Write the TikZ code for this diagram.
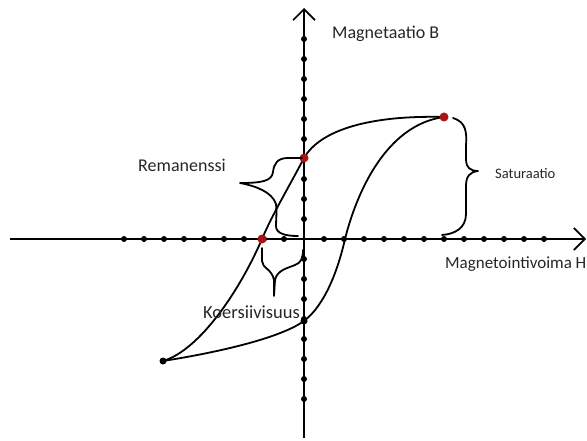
\documentclass[tikz,border=0pt]{standalone}
\usepackage{fontspec}
\setmainfont{Carlito}
\usepackage{tikz}
\usetikzlibrary{arrows.meta}
\definecolor{remred}{RGB}{170,20,20}

\begin{document}
\begin{tikzpicture}[x=1pt,y=-1pt,
  axis/.style={line width=1.7pt,-{Straight Barb[length=11pt,width=22pt]}},
  loop/.style={line width=1.8pt},
  brace/.style={line width=1.8pt,line cap=round,line join=round},
  tickdot/.style={circle,fill=black,inner sep=0pt,minimum size=6pt},
  reddot/.style={circle,fill=remred,inner sep=0pt,minimum size=9pt},
  lbl/.style={anchor=base west,inner sep=0pt,text=black!85,font=\fontsize{18}{20}\selectfont}]
\useasboundingbox (0,0) rectangle (587,441);
% axes
\coordinate (hl) at (10,239);
\coordinate (hr) at (586,239);
\coordinate (vb) at (304,438);
\coordinate (vt) at (304,8);
\draw[axis] (hl) -- (hr);
\draw[axis] (vb) -- (vt);
% tick dots
\foreach \k in {1,...,9} \node[tickdot] at (304-20*\k,239) {};
\foreach \k in {1,...,12} \node[tickdot] at (304+20*\k,239) {};
\foreach \k in {1,...,10} \node[tickdot] at (304,239-20*\k) {};
\foreach \k in {1,...,8} \node[tickdot] at (304,239+20*\k) {};
% hysteresis loop
\coordinate (satp) at (444,117);
\coordinate (remp) at (304,158);
\coordinate (coerp) at (262,239);
\coordinate (negp) at (163,361);
\coordinate (lowp) at (304,321);
\coordinate (hcross) at (345,239);
\draw[loop] (satp) .. controls (370,115) and (320,130) .. (remp)
  .. controls (290,185) and (272,215) .. (coerp)
  .. controls (240,290) and (200,350) .. (negp);
\draw[loop] (negp) .. controls (220,352) and (280,338) .. (lowp)
  .. controls (325,305) and (338,270) .. (hcross)
  .. controls (356,195) and (385,125) .. (satp);
\node[tickdot,minimum size=7pt] (neg) at (negp) {};
\node[tickdot,minimum size=7pt] (low) at (lowp) {};
\node[reddot] (sat) at (satp) {};
\node[reddot] (rem) at (remp) {};
\node[reddot] (coer) at (coerp) {};
% braces
\draw[brace] (453,118) .. controls (466,122) and (467,132) .. (466,146) -- (466,160)
  .. controls (466,167) and (470,171) .. (478,171)
  .. controls (470,172) and (466,176) .. (466,186) -- (466,214)
  .. controls (466,228) and (455,234) .. (442,235);
\draw[brace] (302,158) -- (288,158) .. controls (277,158) and (274,164) .. (273,172)
  .. controls (272,181) and (262,183) .. (240,183)
  .. controls (256,186) and (272,192) .. (276,204)
  .. controls (277,212) and (276,220) .. (276,226)
  .. controls (276,233) and (284,236) .. (298,236);
\draw[brace] (262,248) -- (262,261) .. controls (262,268) and (272,269) .. (274,280)
  -- (274,296) -- (275,280) .. controls (277,270) and (288,268) .. (295,265)
  .. controls (301,263) and (303,258) .. (303,250);
% labels
\node[lbl] (magB) at (332,39) {Magnetaatio B};
\node[lbl] (remL) at (138,172) {Remanenssi};
\node[lbl,font=\fontsize{14.5}{16}\selectfont] (satL) at (495,179) {Saturaatio};
\node[lbl,font=\fontsize{17}{19}\selectfont] (magH) at (445,269) {Magnetointivoima H};
\node[lbl,font=\fontsize{18.5}{20}\selectfont] (koerL) at (203,318) {Koersiivisuus};
\end{tikzpicture}
\end{document}
